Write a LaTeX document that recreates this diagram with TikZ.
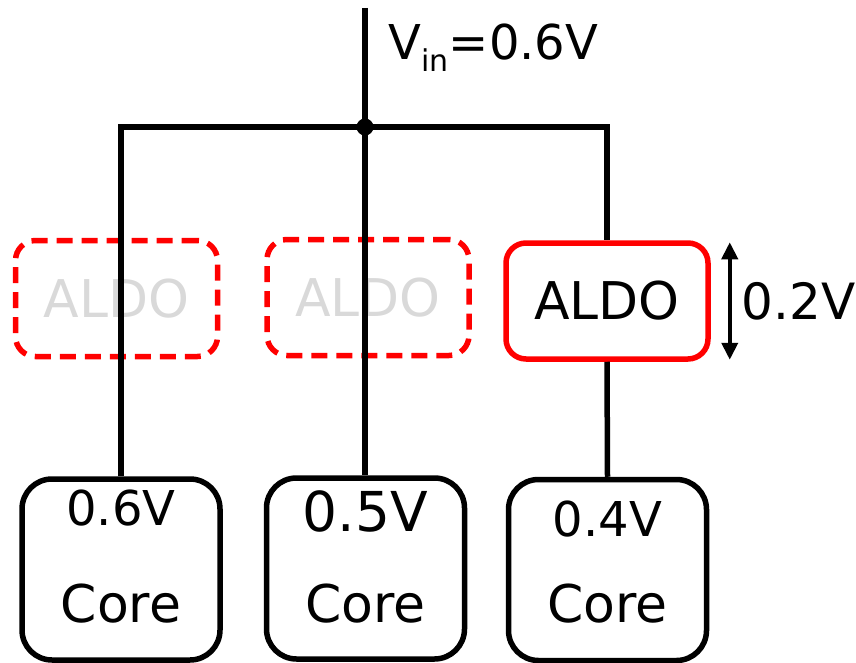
\documentclass[tikz,border=0pt]{standalone}
\usepackage{fontspec}
\setmainfont{DejaVu Sans}
\usetikzlibrary{arrows.meta}

\begin{document}
\begin{tikzpicture}[x=1pt,y=-1pt,>={Triangle[length=17pt,width=16pt]},line width=5.5pt,
  aldo/.style={draw=red,rounded corners=20pt,minimum width=202pt,minimum height=116pt,inner sep=0pt,font=\fontsize{52}{60}\selectfont},
  aldooff/.style={aldo,dash pattern=on 16pt off 9pt,text=gray!30},
  core/.style={draw,rounded corners=30pt,minimum width=198pt,minimum height=181pt},
  lab/.style={anchor=base,inner sep=0pt,font=\fontsize{#1}{#1}\selectfont}]
  \useasboundingbox (0,0) rectangle (856,663);
  % regulators
  \node[aldooff] (aldoA) at (116.5,298.5) {ALDO};
  \node[aldooff] (aldoB) at (368,297.5) {ALDO};
  \node[aldo] (aldoC) at (607,301) {ALDO};
  % cores
  \node[core] (coreA) at (121,569.5) {};
  \node[core] (coreB) at (365.5,568.5) {};
  \node[core] (coreC) at (607.5,570) {};
  \node[lab=48] at (121,525) {0.6V};
  \node[lab=52] at (121,622) {Core};
  \node[lab=55] at (365.5,531) {0.5V};
  \node[lab=52] at (365.5,622) {Core};
  \node[lab=48] at (607.5,536) {0.4V};
  \node[lab=52] at (607.5,622) {Core};
  % supply and bus
  \coordinate (in) at (365,8);
  \coordinate (J) at (365,127);
  \coordinate (busL) at (121,127);
  \coordinate (busR) at (607,127);
  \draw (in) -- (J) -- (J |- coreB.north);
  \draw (coreA.north) -- (busL) -- (busR) -- (aldoC.north);
  \draw (aldoC.south) -- (coreC.north);
  \fill (J) circle (8.5pt);
  \node[anchor=base west,inner sep=0pt,font=\fontsize{48}{48}\selectfont] (vin) at (386,60)
    {V\raisebox{-12pt}{\fontsize{30}{30}\selectfont in}=0.6V};
  % drop across the active regulator
  \draw[<->,line width=4pt] ([xshift=19pt,yshift=-2pt]aldoC.north east) -- ([xshift=19pt,yshift=2pt]aldoC.south east)
    node[midway,right=10pt,inner sep=0pt,font=\fontsize{50}{50}\selectfont] (drop) {0.2V};
\end{tikzpicture}
\end{document}
